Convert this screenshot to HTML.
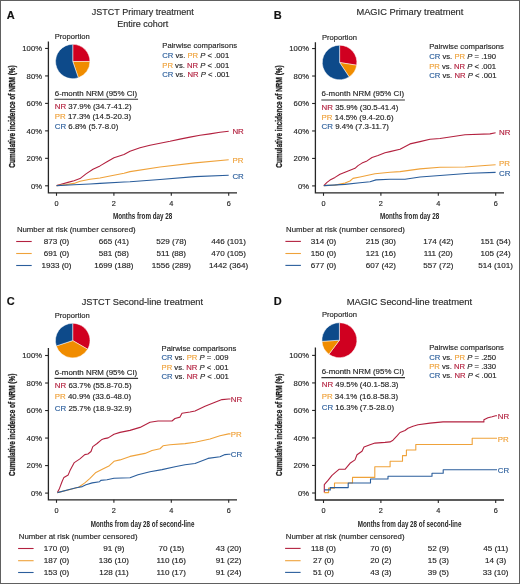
<!DOCTYPE html>
<html><head><meta charset="utf-8"><style>
html,body{margin:0;padding:0;background:#fff;}
body{width:520px;height:584px;overflow:hidden;position:relative;}
svg{position:absolute;left:0;top:0;font-family:"Liberation Sans", sans-serif;will-change:transform;}
text{stroke-width:0.15px;}
.border{position:absolute;left:0;top:0;width:518px;height:582px;border:1px solid #606060;}
</style></head><body>
<svg width="520" height="584" viewBox="0 0 520 584">
<text x="6.8" y="18.6" font-size="11" text-anchor="start" fill="#111" stroke="#111" font-weight="bold" >A</text>
<text x="142.8" y="15.0" font-size="9.0" text-anchor="middle" fill="#2a2a2a" stroke="#2a2a2a" font-weight="normal" >JSTCT Primary treatment</text>
<text x="142.8" y="26.5" font-size="9.0" text-anchor="middle" fill="#2a2a2a" stroke="#2a2a2a" font-weight="normal" >Entire cohort</text>
<text x="54.75" y="38.75" font-size="7.6" text-anchor="start" fill="#252525" stroke="#252525" font-weight="normal" >Proportion</text>
<path d="M72.75,61.50 L72.75,44.30 A17.2,17.2 0 0 1 89.95,61.46 Z" fill="#d00020" stroke="#fff" stroke-width="0.5" stroke-linejoin="round"/>
<path d="M72.75,61.50 L89.95,61.46 A17.2,17.2 0 0 1 78.35,77.76 Z" fill="#f08c00" stroke="#fff" stroke-width="0.5" stroke-linejoin="round"/>
<path d="M72.75,61.50 L78.35,77.76 A17.2,17.2 0 1 1 72.75,44.30 Z" fill="#0d4a8a" stroke="#fff" stroke-width="0.5" stroke-linejoin="round"/>
<text x="162.25" y="48.0" font-size="7.7" text-anchor="start" fill="#252525" stroke="#252525" font-weight="normal" >Pairwise comparisons</text>
<text x="162.25" y="57.75" font-size="7.7" fill="#252525" stroke="#252525"><tspan fill="#2b5e9c" stroke="#2b5e9c">CR</tspan> vs. <tspan fill="#efa23a" stroke="#efa23a">PR</tspan> <tspan font-style="italic">P</tspan> &lt; .001</text>
<text x="162.25" y="67.5" font-size="7.7" fill="#252525" stroke="#252525"><tspan fill="#efa23a" stroke="#efa23a">PR</tspan> vs. <tspan fill="#b3213f" stroke="#b3213f">NR</tspan> <tspan font-style="italic">P</tspan> &lt; .001</text>
<text x="162.25" y="77.25" font-size="7.7" fill="#252525" stroke="#252525"><tspan fill="#2b5e9c" stroke="#2b5e9c">CR</tspan> vs. <tspan fill="#b3213f" stroke="#b3213f">NR</tspan> <tspan font-style="italic">P</tspan> &lt; .001</text>
<text x="54.75" y="95.5" font-size="7.9" text-anchor="start" fill="#252525" stroke="#252525" font-weight="normal" >6-month NRM (95% CI)</text>
<line x1="54.45" y1="99.25" x2="138.05" y2="99.25" stroke="#333" stroke-width="1.2"/>
<text x="54.75" y="109.25" font-size="7.9" fill="#252525" stroke="#252525"><tspan fill="#b3213f" stroke="#b3213f">NR</tspan> 37.9% (34.7-41.2)</text>
<text x="54.75" y="119.0" font-size="7.9" fill="#252525" stroke="#252525"><tspan fill="#efa23a" stroke="#efa23a">PR</tspan> 17.3% (14.5-20.3)</text>
<text x="54.75" y="128.6" font-size="7.9" fill="#252525" stroke="#252525"><tspan fill="#2b5e9c" stroke="#2b5e9c">CR</tspan> 6.8% (5.7-8.0)</text>
<path d="M48.4,41.5 L48.4,192.8 L237,192.8" fill="none" stroke="#262626" stroke-width="1.3"/>
<line x1="45.1" y1="185.80" x2="48.4" y2="185.80" stroke="#262626" stroke-width="1.1"/>
<text x="42" y="188.60" font-size="7.7" text-anchor="end" fill="#252525" stroke="#252525" font-weight="normal" >0%</text>
<line x1="45.1" y1="158.33" x2="48.4" y2="158.33" stroke="#262626" stroke-width="1.1"/>
<text x="42" y="161.13" font-size="7.7" text-anchor="end" fill="#252525" stroke="#252525" font-weight="normal" >20%</text>
<line x1="45.1" y1="130.86" x2="48.4" y2="130.86" stroke="#262626" stroke-width="1.1"/>
<text x="42" y="133.66" font-size="7.7" text-anchor="end" fill="#252525" stroke="#252525" font-weight="normal" >40%</text>
<line x1="45.1" y1="103.39" x2="48.4" y2="103.39" stroke="#262626" stroke-width="1.1"/>
<text x="42" y="106.19" font-size="7.7" text-anchor="end" fill="#252525" stroke="#252525" font-weight="normal" >60%</text>
<line x1="45.1" y1="75.92" x2="48.4" y2="75.92" stroke="#262626" stroke-width="1.1"/>
<text x="42" y="78.72" font-size="7.7" text-anchor="end" fill="#252525" stroke="#252525" font-weight="normal" >80%</text>
<line x1="45.1" y1="48.45" x2="48.4" y2="48.45" stroke="#262626" stroke-width="1.1"/>
<text x="42" y="51.25" font-size="7.7" text-anchor="end" fill="#252525" stroke="#252525" font-weight="normal" >100%</text>
<line x1="56.50" y1="192.8" x2="56.50" y2="195.8" stroke="#262626" stroke-width="1.1"/>
<text x="56.50" y="205.8" font-size="7.3" text-anchor="middle" fill="#252525" stroke="#252525" font-weight="normal" >0</text>
<line x1="113.90" y1="192.8" x2="113.90" y2="195.8" stroke="#262626" stroke-width="1.1"/>
<text x="113.90" y="205.8" font-size="7.3" text-anchor="middle" fill="#252525" stroke="#252525" font-weight="normal" >2</text>
<line x1="171.30" y1="192.8" x2="171.30" y2="195.8" stroke="#262626" stroke-width="1.1"/>
<text x="171.30" y="205.8" font-size="7.3" text-anchor="middle" fill="#252525" stroke="#252525" font-weight="normal" >4</text>
<line x1="228.70" y1="192.8" x2="228.70" y2="195.8" stroke="#262626" stroke-width="1.1"/>
<text x="228.70" y="205.8" font-size="7.3" text-anchor="middle" fill="#252525" stroke="#252525" font-weight="normal" >6</text>
<text transform="translate(142.6,219.4) scale(0.655,1)" x="0" y="0" font-size="9.6" text-anchor="middle" fill="#262626" font-weight="bold">Months from day 28</text>
<text transform="translate(14.6,116.5) rotate(-90) scale(0.70,1)" x="0" y="0" font-size="9.2" text-anchor="middle" fill="#1a1a1a" stroke="#1a1a1a" style="stroke-width:0.3px" font-weight="bold">Cumulative incidence of NRM (%)</text>
<text x="16.9" y="231.75" font-size="7.8" text-anchor="start" fill="#252525" stroke="#252525" font-weight="normal" >Number at risk (number censored)</text>
<line x1="16.2" y1="241.5" x2="31.7" y2="241.5" stroke="#b3213f" stroke-width="1.1"/>
<text x="56.50" y="244.10" font-size="8.1" text-anchor="middle" fill="#252525" stroke="#252525" font-weight="normal" >873 (0)</text>
<text x="113.90" y="244.10" font-size="8.1" text-anchor="middle" fill="#252525" stroke="#252525" font-weight="normal" >665 (41)</text>
<text x="171.30" y="244.10" font-size="8.1" text-anchor="middle" fill="#252525" stroke="#252525" font-weight="normal" >529 (78)</text>
<text x="228.70" y="244.10" font-size="8.1" text-anchor="middle" fill="#252525" stroke="#252525" font-weight="normal" >446 (101)</text>
<line x1="16.2" y1="253.5" x2="31.7" y2="253.5" stroke="#efa23a" stroke-width="1.1"/>
<text x="56.50" y="256.10" font-size="8.1" text-anchor="middle" fill="#252525" stroke="#252525" font-weight="normal" >691 (0)</text>
<text x="113.90" y="256.10" font-size="8.1" text-anchor="middle" fill="#252525" stroke="#252525" font-weight="normal" >581 (58)</text>
<text x="171.30" y="256.10" font-size="8.1" text-anchor="middle" fill="#252525" stroke="#252525" font-weight="normal" >511 (88)</text>
<text x="228.70" y="256.10" font-size="8.1" text-anchor="middle" fill="#252525" stroke="#252525" font-weight="normal" >470 (105)</text>
<line x1="16.2" y1="265.5" x2="31.7" y2="265.5" stroke="#2b5e9c" stroke-width="1.1"/>
<text x="56.50" y="268.10" font-size="8.1" text-anchor="middle" fill="#252525" stroke="#252525" font-weight="normal" >1933 (0)</text>
<text x="113.90" y="268.10" font-size="8.1" text-anchor="middle" fill="#252525" stroke="#252525" font-weight="normal" >1699 (188)</text>
<text x="171.30" y="268.10" font-size="8.1" text-anchor="middle" fill="#252525" stroke="#252525" font-weight="normal" >1556 (289)</text>
<text x="228.70" y="268.10" font-size="8.1" text-anchor="middle" fill="#252525" stroke="#252525" font-weight="normal" >1442 (364)</text>
<polyline points="56.60,185.60 62.00,184.00 68.00,182.40 74.00,180.70 80.00,178.60 86.00,173.90 93.00,169.20 100.00,165.90 107.00,161.80 114.00,157.80 124.00,154.40 130.00,151.20 140.00,147.80 150.00,145.20 160.00,143.20 170.00,141.30 180.00,139.10 190.00,137.10 200.00,135.30 210.00,133.90 220.00,132.30 228.70,131.20" fill="none" stroke="#b3213f" stroke-width="1.1" stroke-linejoin="round"/>
<polyline points="56.60,185.60 66.00,184.60 74.00,183.40 80.00,181.30 90.00,179.30 100.00,178.00 110.00,176.00 124.00,173.30 130.00,171.60 160.00,167.00 195.00,162.90 228.70,159.80" fill="none" stroke="#efa23a" stroke-width="1.1" stroke-linejoin="round"/>
<polyline points="56.60,185.60 74.00,184.70 90.00,184.00 100.00,183.40 124.00,182.00 130.00,181.80 160.00,179.50 195.00,176.60 228.70,175.20" fill="none" stroke="#2b5e9c" stroke-width="1.1" stroke-linejoin="round"/>
<text x="232.4" y="134.10" font-size="7.9" text-anchor="start" fill="#b3213f" stroke="#b3213f" font-weight="normal" >NR</text>
<text x="232.4" y="162.80" font-size="7.9" text-anchor="start" fill="#efa23a" stroke="#efa23a" font-weight="normal" >PR</text>
<text x="232.4" y="178.80" font-size="7.9" text-anchor="start" fill="#2b5e9c" stroke="#2b5e9c" font-weight="normal" >CR</text>
<text x="273.8" y="18.7" font-size="11" text-anchor="start" fill="#111" stroke="#111" font-weight="bold" >B</text>
<text x="409.9" y="15.0" font-size="9.3" text-anchor="middle" fill="#2a2a2a" stroke="#2a2a2a" font-weight="normal" >MAGIC Primary treatment</text>
<text x="321.9" y="39.6" font-size="7.6" text-anchor="start" fill="#252525" stroke="#252525" font-weight="normal" >Proportion</text>
<path d="M339.60,62.50 L339.60,45.20 A17.3,17.3 0 0 1 356.68,65.23 Z" fill="#d00020" stroke="#fff" stroke-width="0.5" stroke-linejoin="round"/>
<path d="M339.60,62.50 L356.68,65.23 A17.3,17.3 0 0 1 349.17,76.91 Z" fill="#f08c00" stroke="#fff" stroke-width="0.5" stroke-linejoin="round"/>
<path d="M339.60,62.50 L349.17,76.91 A17.3,17.3 0 1 1 339.60,45.20 Z" fill="#0d4a8a" stroke="#fff" stroke-width="0.5" stroke-linejoin="round"/>
<text x="429.2" y="49.0" font-size="7.7" text-anchor="start" fill="#252525" stroke="#252525" font-weight="normal" >Pairwise comparisons</text>
<text x="429.2" y="58.8" font-size="7.7" fill="#252525" stroke="#252525"><tspan fill="#2b5e9c" stroke="#2b5e9c">CR</tspan> vs. <tspan fill="#efa23a" stroke="#efa23a">PR</tspan> <tspan font-style="italic">P</tspan> = .190</text>
<text x="429.2" y="68.5" font-size="7.7" fill="#252525" stroke="#252525"><tspan fill="#efa23a" stroke="#efa23a">PR</tspan> vs. <tspan fill="#b3213f" stroke="#b3213f">NR</tspan> <tspan font-style="italic">P</tspan> &lt; .001</text>
<text x="429.2" y="78.0" font-size="7.7" fill="#252525" stroke="#252525"><tspan fill="#2b5e9c" stroke="#2b5e9c">CR</tspan> vs. <tspan fill="#b3213f" stroke="#b3213f">NR</tspan> <tspan font-style="italic">P</tspan> &lt; .001</text>
<text x="321.6" y="96.0" font-size="7.9" text-anchor="start" fill="#252525" stroke="#252525" font-weight="normal" >6-month NRM (95% CI)</text>
<line x1="321.3" y1="100.0" x2="404.90000000000003" y2="100.0" stroke="#333" stroke-width="1.2"/>
<text x="321.6" y="110.0" font-size="7.9" fill="#252525" stroke="#252525"><tspan fill="#b3213f" stroke="#b3213f">NR</tspan> 35.9% (30.5-41.4)</text>
<text x="321.6" y="119.7" font-size="7.9" fill="#252525" stroke="#252525"><tspan fill="#efa23a" stroke="#efa23a">PR</tspan> 14.5% (9.4-20.6)</text>
<text x="321.6" y="129.3" font-size="7.9" fill="#252525" stroke="#252525"><tspan fill="#2b5e9c" stroke="#2b5e9c">CR</tspan> 9.4% (7.3-11.7)</text>
<path d="M315.4,42.3 L315.4,192.8 L504,192.8" fill="none" stroke="#262626" stroke-width="1.3"/>
<line x1="312.09999999999997" y1="185.90" x2="315.4" y2="185.90" stroke="#262626" stroke-width="1.1"/>
<text x="309" y="188.70" font-size="7.7" text-anchor="end" fill="#252525" stroke="#252525" font-weight="normal" >0%</text>
<line x1="312.09999999999997" y1="158.43" x2="315.4" y2="158.43" stroke="#262626" stroke-width="1.1"/>
<text x="309" y="161.23" font-size="7.7" text-anchor="end" fill="#252525" stroke="#252525" font-weight="normal" >20%</text>
<line x1="312.09999999999997" y1="130.96" x2="315.4" y2="130.96" stroke="#262626" stroke-width="1.1"/>
<text x="309" y="133.76" font-size="7.7" text-anchor="end" fill="#252525" stroke="#252525" font-weight="normal" >40%</text>
<line x1="312.09999999999997" y1="103.49" x2="315.4" y2="103.49" stroke="#262626" stroke-width="1.1"/>
<text x="309" y="106.29" font-size="7.7" text-anchor="end" fill="#252525" stroke="#252525" font-weight="normal" >60%</text>
<line x1="312.09999999999997" y1="76.02" x2="315.4" y2="76.02" stroke="#262626" stroke-width="1.1"/>
<text x="309" y="78.82" font-size="7.7" text-anchor="end" fill="#252525" stroke="#252525" font-weight="normal" >80%</text>
<line x1="312.09999999999997" y1="48.55" x2="315.4" y2="48.55" stroke="#262626" stroke-width="1.1"/>
<text x="309" y="51.35" font-size="7.7" text-anchor="end" fill="#252525" stroke="#252525" font-weight="normal" >100%</text>
<line x1="323.50" y1="192.8" x2="323.50" y2="195.8" stroke="#262626" stroke-width="1.1"/>
<text x="323.50" y="205.8" font-size="7.3" text-anchor="middle" fill="#252525" stroke="#252525" font-weight="normal" >0</text>
<line x1="380.90" y1="192.8" x2="380.90" y2="195.8" stroke="#262626" stroke-width="1.1"/>
<text x="380.90" y="205.8" font-size="7.3" text-anchor="middle" fill="#252525" stroke="#252525" font-weight="normal" >2</text>
<line x1="438.30" y1="192.8" x2="438.30" y2="195.8" stroke="#262626" stroke-width="1.1"/>
<text x="438.30" y="205.8" font-size="7.3" text-anchor="middle" fill="#252525" stroke="#252525" font-weight="normal" >4</text>
<line x1="495.70" y1="192.8" x2="495.70" y2="195.8" stroke="#262626" stroke-width="1.1"/>
<text x="495.70" y="205.8" font-size="7.3" text-anchor="middle" fill="#252525" stroke="#252525" font-weight="normal" >6</text>
<text transform="translate(409.6,219.4) scale(0.655,1)" x="0" y="0" font-size="9.6" text-anchor="middle" fill="#262626" font-weight="bold">Months from day 28</text>
<text transform="translate(281.6,116.5) rotate(-90) scale(0.70,1)" x="0" y="0" font-size="9.2" text-anchor="middle" fill="#1a1a1a" stroke="#1a1a1a" style="stroke-width:0.3px" font-weight="bold">Cumulative incidence of NRM (%)</text>
<text x="286.09999999999997" y="231.7" font-size="7.8" text-anchor="start" fill="#252525" stroke="#252525" font-weight="normal" >Number at risk (number censored)</text>
<line x1="285.4" y1="241.4" x2="300.9" y2="241.4" stroke="#b3213f" stroke-width="1.1"/>
<text x="323.50" y="244.00" font-size="8.1" text-anchor="middle" fill="#252525" stroke="#252525" font-weight="normal" >314 (0)</text>
<text x="380.90" y="244.00" font-size="8.1" text-anchor="middle" fill="#252525" stroke="#252525" font-weight="normal" >215 (30)</text>
<text x="438.30" y="244.00" font-size="8.1" text-anchor="middle" fill="#252525" stroke="#252525" font-weight="normal" >174 (42)</text>
<text x="495.70" y="244.00" font-size="8.1" text-anchor="middle" fill="#252525" stroke="#252525" font-weight="normal" >151 (54)</text>
<line x1="285.4" y1="253.5" x2="300.9" y2="253.5" stroke="#efa23a" stroke-width="1.1"/>
<text x="323.50" y="256.10" font-size="8.1" text-anchor="middle" fill="#252525" stroke="#252525" font-weight="normal" >150 (0)</text>
<text x="380.90" y="256.10" font-size="8.1" text-anchor="middle" fill="#252525" stroke="#252525" font-weight="normal" >121 (16)</text>
<text x="438.30" y="256.10" font-size="8.1" text-anchor="middle" fill="#252525" stroke="#252525" font-weight="normal" >111 (20)</text>
<text x="495.70" y="256.10" font-size="8.1" text-anchor="middle" fill="#252525" stroke="#252525" font-weight="normal" >105 (24)</text>
<line x1="285.4" y1="265.4" x2="300.9" y2="265.4" stroke="#2b5e9c" stroke-width="1.1"/>
<text x="323.50" y="268.00" font-size="8.1" text-anchor="middle" fill="#252525" stroke="#252525" font-weight="normal" >677 (0)</text>
<text x="380.90" y="268.00" font-size="8.1" text-anchor="middle" fill="#252525" stroke="#252525" font-weight="normal" >607 (42)</text>
<text x="438.30" y="268.00" font-size="8.1" text-anchor="middle" fill="#252525" stroke="#252525" font-weight="normal" >557 (72)</text>
<text x="495.70" y="268.00" font-size="8.1" text-anchor="middle" fill="#252525" stroke="#252525" font-weight="normal" >514 (101)</text>
<polyline points="323.80,185.60 327.00,182.40 330.00,180.10 335.00,177.40 340.00,174.30 345.00,172.30 350.00,170.30 355.00,168.30 358.00,165.60 362.00,163.10 367.00,160.90 372.00,157.50 378.00,155.50 385.00,152.80 390.00,151.60 400.00,149.30 410.00,143.90 420.00,141.60 430.00,139.30 440.00,138.50 465.00,134.70 490.00,133.90 495.60,132.80" fill="none" stroke="#b3213f" stroke-width="1.1" stroke-linejoin="round"/>
<polyline points="323.80,185.60 335.00,185.10 345.00,183.10 350.00,181.00 353.00,178.40 360.00,177.00 368.00,175.30 375.00,173.80 390.00,172.30 400.00,171.60 420.00,168.90 440.00,167.30 465.00,167.00 485.00,165.50 495.60,164.70" fill="none" stroke="#efa23a" stroke-width="1.1" stroke-linejoin="round"/>
<polyline points="323.80,185.60 345.00,184.40 360.00,182.80 370.00,181.70 376.00,179.90 390.00,179.30 405.00,179.30 420.00,177.00 440.00,175.50 470.00,173.20 495.60,172.40" fill="none" stroke="#2b5e9c" stroke-width="1.1" stroke-linejoin="round"/>
<text x="499" y="134.80" font-size="7.9" text-anchor="start" fill="#b3213f" stroke="#b3213f" font-weight="normal" >NR</text>
<text x="499" y="166.10" font-size="7.9" text-anchor="start" fill="#efa23a" stroke="#efa23a" font-weight="normal" >PR</text>
<text x="499" y="176.30" font-size="7.9" text-anchor="start" fill="#2b5e9c" stroke="#2b5e9c" font-weight="normal" >CR</text>
<text x="6.8" y="304.8" font-size="11" text-anchor="start" fill="#111" stroke="#111" font-weight="bold" >C</text>
<text x="142.35" y="304.8" font-size="9.22" text-anchor="middle" fill="#2a2a2a" stroke="#2a2a2a" font-weight="normal" >JSTCT Second-line treatment</text>
<text x="54.75" y="318.1" font-size="7.6" text-anchor="start" fill="#252525" stroke="#252525" font-weight="normal" >Proportion</text>
<path d="M72.70,340.60 L72.70,323.30 A17.3,17.3 0 0 1 87.68,349.25 Z" fill="#d00020" stroke="#fff" stroke-width="0.5" stroke-linejoin="round"/>
<path d="M72.70,340.60 L87.68,349.25 A17.3,17.3 0 0 1 56.25,345.95 Z" fill="#f08c00" stroke="#fff" stroke-width="0.5" stroke-linejoin="round"/>
<path d="M72.70,340.60 L56.25,345.95 A17.3,17.3 0 0 1 72.70,323.30 Z" fill="#0d4a8a" stroke="#fff" stroke-width="0.5" stroke-linejoin="round"/>
<text x="161.5" y="351.2" font-size="7.7" text-anchor="start" fill="#252525" stroke="#252525" font-weight="normal" >Pairwise comparisons</text>
<text x="161.5" y="360.2" font-size="7.7" fill="#252525" stroke="#252525"><tspan fill="#2b5e9c" stroke="#2b5e9c">CR</tspan> vs. <tspan fill="#efa23a" stroke="#efa23a">PR</tspan> <tspan font-style="italic">P</tspan> = .009</text>
<text x="161.5" y="369.8" font-size="7.7" fill="#252525" stroke="#252525"><tspan fill="#efa23a" stroke="#efa23a">PR</tspan> vs. <tspan fill="#b3213f" stroke="#b3213f">NR</tspan> <tspan font-style="italic">P</tspan> &lt; .001</text>
<text x="161.5" y="379.4" font-size="7.7" fill="#252525" stroke="#252525"><tspan fill="#2b5e9c" stroke="#2b5e9c">CR</tspan> vs. <tspan fill="#b3213f" stroke="#b3213f">NR</tspan> <tspan font-style="italic">P</tspan> &lt; .001</text>
<text x="54.8" y="375.0" font-size="7.9" text-anchor="start" fill="#252525" stroke="#252525" font-weight="normal" >6-month NRM (95% CI)</text>
<line x1="54.5" y1="378.3" x2="138.1" y2="378.3" stroke="#333" stroke-width="1.2"/>
<text x="54.8" y="387.9" font-size="7.9" fill="#252525" stroke="#252525"><tspan fill="#b3213f" stroke="#b3213f">NR</tspan> 63.7% (55.8-70.5)</text>
<text x="54.8" y="399.4" font-size="7.9" fill="#252525" stroke="#252525"><tspan fill="#efa23a" stroke="#efa23a">PR</tspan> 40.9% (33.6-48.0)</text>
<text x="54.8" y="410.6" font-size="7.9" fill="#252525" stroke="#252525"><tspan fill="#2b5e9c" stroke="#2b5e9c">CR</tspan> 25.7% (18.9-32.9)</text>
<path d="M48.4,348.1 L48.4,499.8 L237,499.8" fill="none" stroke="#262626" stroke-width="1.3"/>
<line x1="45.1" y1="493.10" x2="48.4" y2="493.10" stroke="#262626" stroke-width="1.1"/>
<text x="42" y="495.90" font-size="7.7" text-anchor="end" fill="#252525" stroke="#252525" font-weight="normal" >0%</text>
<line x1="45.1" y1="465.58" x2="48.4" y2="465.58" stroke="#262626" stroke-width="1.1"/>
<text x="42" y="468.38" font-size="7.7" text-anchor="end" fill="#252525" stroke="#252525" font-weight="normal" >20%</text>
<line x1="45.1" y1="438.06" x2="48.4" y2="438.06" stroke="#262626" stroke-width="1.1"/>
<text x="42" y="440.86" font-size="7.7" text-anchor="end" fill="#252525" stroke="#252525" font-weight="normal" >40%</text>
<line x1="45.1" y1="410.54" x2="48.4" y2="410.54" stroke="#262626" stroke-width="1.1"/>
<text x="42" y="413.34" font-size="7.7" text-anchor="end" fill="#252525" stroke="#252525" font-weight="normal" >60%</text>
<line x1="45.1" y1="383.02" x2="48.4" y2="383.02" stroke="#262626" stroke-width="1.1"/>
<text x="42" y="385.82" font-size="7.7" text-anchor="end" fill="#252525" stroke="#252525" font-weight="normal" >80%</text>
<line x1="45.1" y1="355.50" x2="48.4" y2="355.50" stroke="#262626" stroke-width="1.1"/>
<text x="42" y="358.30" font-size="7.7" text-anchor="end" fill="#252525" stroke="#252525" font-weight="normal" >100%</text>
<line x1="56.50" y1="499.8" x2="56.50" y2="502.8" stroke="#262626" stroke-width="1.1"/>
<text x="56.50" y="513.1" font-size="7.3" text-anchor="middle" fill="#252525" stroke="#252525" font-weight="normal" >0</text>
<line x1="113.90" y1="499.8" x2="113.90" y2="502.8" stroke="#262626" stroke-width="1.1"/>
<text x="113.90" y="513.1" font-size="7.3" text-anchor="middle" fill="#252525" stroke="#252525" font-weight="normal" >2</text>
<line x1="171.30" y1="499.8" x2="171.30" y2="502.8" stroke="#262626" stroke-width="1.1"/>
<text x="171.30" y="513.1" font-size="7.3" text-anchor="middle" fill="#252525" stroke="#252525" font-weight="normal" >4</text>
<line x1="228.70" y1="499.8" x2="228.70" y2="502.8" stroke="#262626" stroke-width="1.1"/>
<text x="228.70" y="513.1" font-size="7.3" text-anchor="middle" fill="#252525" stroke="#252525" font-weight="normal" >6</text>
<text transform="translate(142.6,526.5) scale(0.655,1)" x="0" y="0" font-size="9.6" text-anchor="middle" fill="#262626" font-weight="bold">Months from day 28 of second-line</text>
<text transform="translate(14.6,424.8) rotate(-90) scale(0.70,1)" x="0" y="0" font-size="9.2" text-anchor="middle" fill="#1a1a1a" stroke="#1a1a1a" style="stroke-width:0.3px" font-weight="bold">Cumulative incidence of NRM (%)</text>
<text x="18.799999999999997" y="538.6" font-size="7.8" text-anchor="start" fill="#252525" stroke="#252525" font-weight="normal" >Number at risk (number censored)</text>
<line x1="18.099999999999998" y1="548.5" x2="33.599999999999994" y2="548.5" stroke="#b3213f" stroke-width="1.1"/>
<text x="56.50" y="551.10" font-size="8.1" text-anchor="middle" fill="#252525" stroke="#252525" font-weight="normal" >170 (0)</text>
<text x="113.90" y="551.10" font-size="8.1" text-anchor="middle" fill="#252525" stroke="#252525" font-weight="normal" >91 (9)</text>
<text x="171.30" y="551.10" font-size="8.1" text-anchor="middle" fill="#252525" stroke="#252525" font-weight="normal" >70 (15)</text>
<text x="228.70" y="551.10" font-size="8.1" text-anchor="middle" fill="#252525" stroke="#252525" font-weight="normal" >43 (20)</text>
<line x1="18.099999999999998" y1="560.7" x2="33.599999999999994" y2="560.7" stroke="#efa23a" stroke-width="1.1"/>
<text x="56.50" y="563.30" font-size="8.1" text-anchor="middle" fill="#252525" stroke="#252525" font-weight="normal" >187 (0)</text>
<text x="113.90" y="563.30" font-size="8.1" text-anchor="middle" fill="#252525" stroke="#252525" font-weight="normal" >136 (10)</text>
<text x="171.30" y="563.30" font-size="8.1" text-anchor="middle" fill="#252525" stroke="#252525" font-weight="normal" >110 (16)</text>
<text x="228.70" y="563.30" font-size="8.1" text-anchor="middle" fill="#252525" stroke="#252525" font-weight="normal" >91 (22)</text>
<line x1="18.099999999999998" y1="572.5" x2="33.599999999999994" y2="572.5" stroke="#2b5e9c" stroke-width="1.1"/>
<text x="56.50" y="575.10" font-size="8.1" text-anchor="middle" fill="#252525" stroke="#252525" font-weight="normal" >153 (0)</text>
<text x="113.90" y="575.10" font-size="8.1" text-anchor="middle" fill="#252525" stroke="#252525" font-weight="normal" >128 (11)</text>
<text x="171.30" y="575.10" font-size="8.1" text-anchor="middle" fill="#252525" stroke="#252525" font-weight="normal" >110 (17)</text>
<text x="228.70" y="575.10" font-size="8.1" text-anchor="middle" fill="#252525" stroke="#252525" font-weight="normal" >91 (24)</text>
<polyline points="57.40,492.60 59.50,488.40 62.00,481.70 63.90,477.40 68.20,474.90 70.00,470.60 74.30,462.60 79.90,458.90 84.80,454.60 87.90,454.00 91.00,451.50 92.80,446.60 97.10,443.50 101.40,439.80 104.50,438.60 108.20,437.90 114.00,434.20 120.00,432.40 130.00,430.40 140.00,427.40 150.00,422.20 158.00,421.00 172.00,421.00 175.00,418.50 180.00,417.10 182.00,413.30 190.00,412.00 195.00,411.00 205.00,406.30 215.00,402.30 222.00,399.60 228.60,399.00 230.50,399.00" fill="none" stroke="#b3213f" stroke-width="1.1" stroke-linejoin="round"/>
<polyline points="57.40,492.60 68.80,489.70 78.60,487.20 84.80,482.90 89.70,478.60 95.90,472.40 103.30,468.70 109.40,465.70 114.00,461.30 120.00,459.90 130.00,456.40 145.00,453.40 152.00,450.50 160.00,448.75 163.00,445.80 170.00,444.80 185.00,443.60 195.00,442.20 210.00,439.00 220.00,435.70 228.60,433.90 230.50,433.90" fill="none" stroke="#efa23a" stroke-width="1.1" stroke-linejoin="round"/>
<polyline points="57.40,492.60 76.20,487.80 82.30,486.60 86.00,484.75 92.20,482.90 99.60,481.70 100.80,480.40 107.00,479.80 114.00,478.20 130.00,477.80 138.00,474.75 150.00,471.80 162.00,469.60 175.00,466.70 185.00,464.70 195.00,463.50 208.00,458.40 220.00,456.80 225.00,454.60 228.60,454.20 230.50,454.20" fill="none" stroke="#2b5e9c" stroke-width="1.1" stroke-linejoin="round"/>
<text x="230.8" y="402.40" font-size="7.9" text-anchor="start" fill="#b3213f" stroke="#b3213f" font-weight="normal" >NR</text>
<text x="230.8" y="437.40" font-size="7.9" text-anchor="start" fill="#efa23a" stroke="#efa23a" font-weight="normal" >PR</text>
<text x="230.8" y="457.40" font-size="7.9" text-anchor="start" fill="#2b5e9c" stroke="#2b5e9c" font-weight="normal" >CR</text>
<text x="273.8" y="304.8" font-size="11" text-anchor="start" fill="#111" stroke="#111" font-weight="bold" >D</text>
<text x="409.4" y="304.8" font-size="9.41" text-anchor="middle" fill="#2a2a2a" stroke="#2a2a2a" font-weight="normal" >MAGIC Second-line treatment</text>
<text x="321.9" y="317.4" font-size="7.6" text-anchor="start" fill="#252525" stroke="#252525" font-weight="normal" >Proportion</text>
<path d="M339.40,340.20 L339.40,322.70 A17.5,17.5 0 1 1 328.93,354.22 Z" fill="#d00020" stroke="#fff" stroke-width="0.5" stroke-linejoin="round"/>
<path d="M339.40,340.20 L328.93,354.22 A17.5,17.5 0 0 1 321.94,341.32 Z" fill="#f08c00" stroke="#fff" stroke-width="0.5" stroke-linejoin="round"/>
<path d="M339.40,340.20 L321.94,341.32 A17.5,17.5 0 0 1 339.40,322.70 Z" fill="#0d4a8a" stroke="#fff" stroke-width="0.5" stroke-linejoin="round"/>
<text x="429.2" y="349.8" font-size="7.7" text-anchor="start" fill="#252525" stroke="#252525" font-weight="normal" >Pairwise comparisons</text>
<text x="429.2" y="359.6" font-size="7.7" fill="#252525" stroke="#252525"><tspan fill="#2b5e9c" stroke="#2b5e9c">CR</tspan> vs. <tspan fill="#efa23a" stroke="#efa23a">PR</tspan> <tspan font-style="italic">P</tspan> = .250</text>
<text x="429.2" y="368.9" font-size="7.7" fill="#252525" stroke="#252525"><tspan fill="#efa23a" stroke="#efa23a">PR</tspan> vs. <tspan fill="#b3213f" stroke="#b3213f">NR</tspan> <tspan font-style="italic">P</tspan> = .330</text>
<text x="429.2" y="378.2" font-size="7.7" fill="#252525" stroke="#252525"><tspan fill="#2b5e9c" stroke="#2b5e9c">CR</tspan> vs. <tspan fill="#b3213f" stroke="#b3213f">NR</tspan> <tspan font-style="italic">P</tspan> &lt; .001</text>
<text x="321.7" y="373.9" font-size="7.9" text-anchor="start" fill="#252525" stroke="#252525" font-weight="normal" >6-month NRM (95% CI)</text>
<line x1="321.4" y1="377.7" x2="405.0" y2="377.7" stroke="#333" stroke-width="1.2"/>
<text x="321.7" y="387.0" font-size="7.9" fill="#252525" stroke="#252525"><tspan fill="#b3213f" stroke="#b3213f">NR</tspan> 49.5% (40.1-58.3)</text>
<text x="321.7" y="398.5" font-size="7.9" fill="#252525" stroke="#252525"><tspan fill="#efa23a" stroke="#efa23a">PR</tspan> 34.1% (16.8-58.3)</text>
<text x="321.7" y="410.4" font-size="7.9" fill="#252525" stroke="#252525"><tspan fill="#2b5e9c" stroke="#2b5e9c">CR</tspan> 16.3% (7.5-28.0)</text>
<path d="M315.4,347.5 L315.4,500.0 L504,500.0" fill="none" stroke="#262626" stroke-width="1.3"/>
<line x1="312.09999999999997" y1="493.00" x2="315.4" y2="493.00" stroke="#262626" stroke-width="1.1"/>
<text x="309" y="495.80" font-size="7.7" text-anchor="end" fill="#252525" stroke="#252525" font-weight="normal" >0%</text>
<line x1="312.09999999999997" y1="465.48" x2="315.4" y2="465.48" stroke="#262626" stroke-width="1.1"/>
<text x="309" y="468.28" font-size="7.7" text-anchor="end" fill="#252525" stroke="#252525" font-weight="normal" >20%</text>
<line x1="312.09999999999997" y1="437.96" x2="315.4" y2="437.96" stroke="#262626" stroke-width="1.1"/>
<text x="309" y="440.76" font-size="7.7" text-anchor="end" fill="#252525" stroke="#252525" font-weight="normal" >40%</text>
<line x1="312.09999999999997" y1="410.44" x2="315.4" y2="410.44" stroke="#262626" stroke-width="1.1"/>
<text x="309" y="413.24" font-size="7.7" text-anchor="end" fill="#252525" stroke="#252525" font-weight="normal" >60%</text>
<line x1="312.09999999999997" y1="382.92" x2="315.4" y2="382.92" stroke="#262626" stroke-width="1.1"/>
<text x="309" y="385.72" font-size="7.7" text-anchor="end" fill="#252525" stroke="#252525" font-weight="normal" >80%</text>
<line x1="312.09999999999997" y1="355.40" x2="315.4" y2="355.40" stroke="#262626" stroke-width="1.1"/>
<text x="309" y="358.20" font-size="7.7" text-anchor="end" fill="#252525" stroke="#252525" font-weight="normal" >100%</text>
<line x1="323.50" y1="500.0" x2="323.50" y2="503.0" stroke="#262626" stroke-width="1.1"/>
<text x="323.50" y="513.1" font-size="7.3" text-anchor="middle" fill="#252525" stroke="#252525" font-weight="normal" >0</text>
<line x1="380.90" y1="500.0" x2="380.90" y2="503.0" stroke="#262626" stroke-width="1.1"/>
<text x="380.90" y="513.1" font-size="7.3" text-anchor="middle" fill="#252525" stroke="#252525" font-weight="normal" >2</text>
<line x1="438.30" y1="500.0" x2="438.30" y2="503.0" stroke="#262626" stroke-width="1.1"/>
<text x="438.30" y="513.1" font-size="7.3" text-anchor="middle" fill="#252525" stroke="#252525" font-weight="normal" >4</text>
<line x1="495.70" y1="500.0" x2="495.70" y2="503.0" stroke="#262626" stroke-width="1.1"/>
<text x="495.70" y="513.1" font-size="7.3" text-anchor="middle" fill="#252525" stroke="#252525" font-weight="normal" >6</text>
<text transform="translate(409.6,526.5) scale(0.655,1)" x="0" y="0" font-size="9.6" text-anchor="middle" fill="#262626" font-weight="bold">Months from day 28 of second-line</text>
<text transform="translate(281.6,424.8) rotate(-90) scale(0.70,1)" x="0" y="0" font-size="9.2" text-anchor="middle" fill="#1a1a1a" stroke="#1a1a1a" style="stroke-width:0.3px" font-weight="bold">Cumulative incidence of NRM (%)</text>
<text x="285.79999999999995" y="538.6" font-size="7.8" text-anchor="start" fill="#252525" stroke="#252525" font-weight="normal" >Number at risk (number censored)</text>
<line x1="285.09999999999997" y1="548.4" x2="300.59999999999997" y2="548.4" stroke="#b3213f" stroke-width="1.1"/>
<text x="323.50" y="551.00" font-size="8.1" text-anchor="middle" fill="#252525" stroke="#252525" font-weight="normal" >118 (0)</text>
<text x="380.90" y="551.00" font-size="8.1" text-anchor="middle" fill="#252525" stroke="#252525" font-weight="normal" >70 (6)</text>
<text x="438.30" y="551.00" font-size="8.1" text-anchor="middle" fill="#252525" stroke="#252525" font-weight="normal" >52 (9)</text>
<text x="495.70" y="551.00" font-size="8.1" text-anchor="middle" fill="#252525" stroke="#252525" font-weight="normal" >45 (11)</text>
<line x1="285.09999999999997" y1="560.7" x2="300.59999999999997" y2="560.7" stroke="#efa23a" stroke-width="1.1"/>
<text x="323.50" y="563.30" font-size="8.1" text-anchor="middle" fill="#252525" stroke="#252525" font-weight="normal" >27 (0)</text>
<text x="380.90" y="563.30" font-size="8.1" text-anchor="middle" fill="#252525" stroke="#252525" font-weight="normal" >20 (2)</text>
<text x="438.30" y="563.30" font-size="8.1" text-anchor="middle" fill="#252525" stroke="#252525" font-weight="normal" >15 (3)</text>
<text x="495.70" y="563.30" font-size="8.1" text-anchor="middle" fill="#252525" stroke="#252525" font-weight="normal" >14 (3)</text>
<line x1="285.09999999999997" y1="572.4" x2="300.59999999999997" y2="572.4" stroke="#2b5e9c" stroke-width="1.1"/>
<text x="323.50" y="575.00" font-size="8.1" text-anchor="middle" fill="#252525" stroke="#252525" font-weight="normal" >51 (0)</text>
<text x="380.90" y="575.00" font-size="8.1" text-anchor="middle" fill="#252525" stroke="#252525" font-weight="normal" >43 (3)</text>
<text x="438.30" y="575.00" font-size="8.1" text-anchor="middle" fill="#252525" stroke="#252525" font-weight="normal" >39 (5)</text>
<text x="495.70" y="575.00" font-size="8.1" text-anchor="middle" fill="#252525" stroke="#252525" font-weight="normal" >33 (10)</text>
<polyline points="324.30,492.60 324.30,484.70 328.00,480.40 332.00,475.30 336.00,471.90 339.00,469.30 345.00,469.30 350.00,463.30 355.00,459.90 357.00,454.80 362.00,451.30 364.00,447.00 370.00,444.80 375.00,443.10 385.00,442.40 390.00,441.90 393.00,440.20 397.00,435.90 400.00,432.50 405.00,430.50 408.00,428.20 413.00,426.20 418.00,424.80 430.00,423.10 443.00,421.90 483.90,421.90 483.90,419.80 488.00,417.70 492.10,416.70 495.60,415.70 497.00,415.70" fill="none" stroke="#b3213f" stroke-width="1.1" stroke-linejoin="round"/>
<polyline points="324.30,492.60 328.60,492.60 328.60,488.10 334.50,488.10 334.50,483.00 352.50,483.00 352.50,477.40 374.80,477.40 374.80,466.70 390.10,466.70 390.10,461.30 402.50,461.30 402.50,455.60 406.40,455.60 406.40,450.00 415.80,450.00 415.80,444.50 472.20,444.50 472.20,438.20 497.00,438.20 497.00,438.20" fill="none" stroke="#efa23a" stroke-width="1.1" stroke-linejoin="round"/>
<polyline points="324.30,489.90 330.30,489.90 330.30,487.60 348.20,487.60 348.20,483.00 370.50,483.00 370.50,479.00 388.00,479.00 388.00,476.20 432.00,476.20 432.00,473.30 443.20,473.30 443.20,469.80 497.00,469.80 497.00,469.80" fill="none" stroke="#2b5e9c" stroke-width="1.1" stroke-linejoin="round"/>
<text x="497.8" y="418.50" font-size="7.9" text-anchor="start" fill="#b3213f" stroke="#b3213f" font-weight="normal" >NR</text>
<text x="497.8" y="441.70" font-size="7.9" text-anchor="start" fill="#efa23a" stroke="#efa23a" font-weight="normal" >PR</text>
<text x="497.8" y="472.50" font-size="7.9" text-anchor="start" fill="#2b5e9c" stroke="#2b5e9c" font-weight="normal" >CR</text>
</svg>
<div class="border"></div>
</body></html>
